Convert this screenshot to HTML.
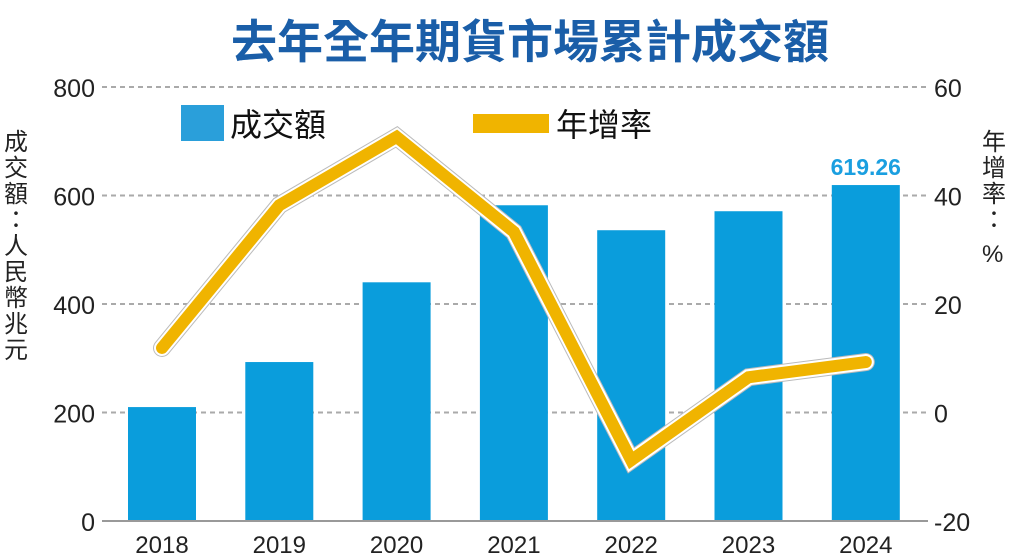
<!DOCTYPE html>
<html><head><meta charset="utf-8"><style>
body{margin:0;background:#fff;width:1011px;height:559px;overflow:hidden}
svg{display:block}
text{font-family:"Liberation Sans","Noto Sans CJK TC",sans-serif}
</style></head><body>
<svg id="c" width="1011" height="559" viewBox="0 0 1011 559">
<text x="530" y="58" text-anchor="middle" font-size="46" font-weight="bold" fill="#1a5ea8">去年全年期貨市場累計成交額</text>
<g id="grid"></g><g id="bars"></g><g id="line"></g><g id="axes"></g>
<g>
<rect x="181" y="105" width="43" height="36" fill="#2a9fda"/>
<text x="230" y="136" font-size="32" fill="#111">成交額</text>
<rect x="473" y="114" width="76" height="19" fill="#f0b400"/>
<text x="556" y="136" font-size="32" fill="#111">年增率</text>
</g>
<text font-size="24" fill="#222"><tspan x="4" y="150">成</tspan><tspan x="4" y="176">交</tspan><tspan x="4" y="202">額</tspan><tspan x="4" y="228">：</tspan><tspan x="4" y="254">人</tspan><tspan x="4" y="280">民</tspan><tspan x="4" y="306">幣</tspan><tspan x="4" y="332">兆</tspan><tspan x="4" y="358">元</tspan></text>
<text font-size="24" fill="#222"><tspan x="982" y="150">年</tspan><tspan x="982" y="176">增</tspan><tspan x="982" y="202">率</tspan><tspan x="982" y="228">：</tspan><tspan x="982" y="262">%</tspan></text>
</svg>
<script>
const years=["2018","2019","2020","2021","2022","2023","2024"];
const volume=[210,293,440,582,536,571,619.26];
const growth=[11.9,38.2,50.8,33.3,-8.8,6.5,9.3];
const leftTicks=[0,200,400,600,800];
const rightTicks=[-20,0,20,40,60];
const NS="http://www.w3.org/2000/svg";
const yTop=87,yBot=521;
const yL=v=>yBot-(v/800)*(yBot-yTop);
const yR=v=>yBot-((v+20)/80)*(yBot-yTop);
const xC=i=>162+i*117.3;
function mk(p,t,a){const e=document.createElementNS(NS,t);for(const k in a)e.setAttribute(k,a[k]);document.getElementById(p).appendChild(e);return e;}
leftTicks.forEach(v=>{
 if(v>0){const l=mk('grid','line',{x1:102,x2:928,y1:yL(v),y2:yL(v),stroke:'#aaa','stroke-width':2,'stroke-dasharray':'5,4'});
 
 }
 const t=mk('axes','text',{x:95,y:yL(v)+10,'text-anchor':'end','font-size':25,fill:'#222'});t.textContent=v;
 
 
});
rightTicks.forEach(v=>{
 const t=mk('axes','text',{x:934,y:yR(v)+10,'font-size':25,fill:'#222'});t.textContent=v;
 
 
});
const base=mk('axes','line',{x1:102,x2:928,y1:yBot,y2:yBot,stroke:'#999','stroke-width':2});


years.forEach((y,i)=>{
 const r=mk('bars','rect',{x:xC(i)-34,y:yL(volume[i]),width:68,height:yBot-yL(volume[i]),fill:'#0a9ddc'});
 
 
 const t=mk('axes','text',{x:xC(i),y:553,'text-anchor':'middle','font-size':24,fill:'#222'});t.textContent=y;
 
 
});
const last=volume.length-1;
const vl=mk('axes','text',{x:xC(last),y:yL(volume[last])-10,'text-anchor':'middle','font-size':23,'font-weight':'bold',fill:'#1a9fe0'});
vl.textContent=volume[last].toFixed(2);


const pts=growth.map((g,i)=>xC(i)+','+yR(g)).join(' ');
const o=mk('line','polyline',{points:pts,fill:'none',stroke:'#bbb','stroke-width':18,'stroke-linejoin':'miter','stroke-linecap':'round'});


const w=mk('line','polyline',{points:pts,fill:'none',stroke:'#fff','stroke-width':16,'stroke-linejoin':'miter','stroke-linecap':'round'});


const g=mk('line','polyline',{points:pts,fill:'none',stroke:'#f0b400','stroke-width':12,'stroke-linejoin':'miter','stroke-linecap':'round'});


</script>
</body></html>
